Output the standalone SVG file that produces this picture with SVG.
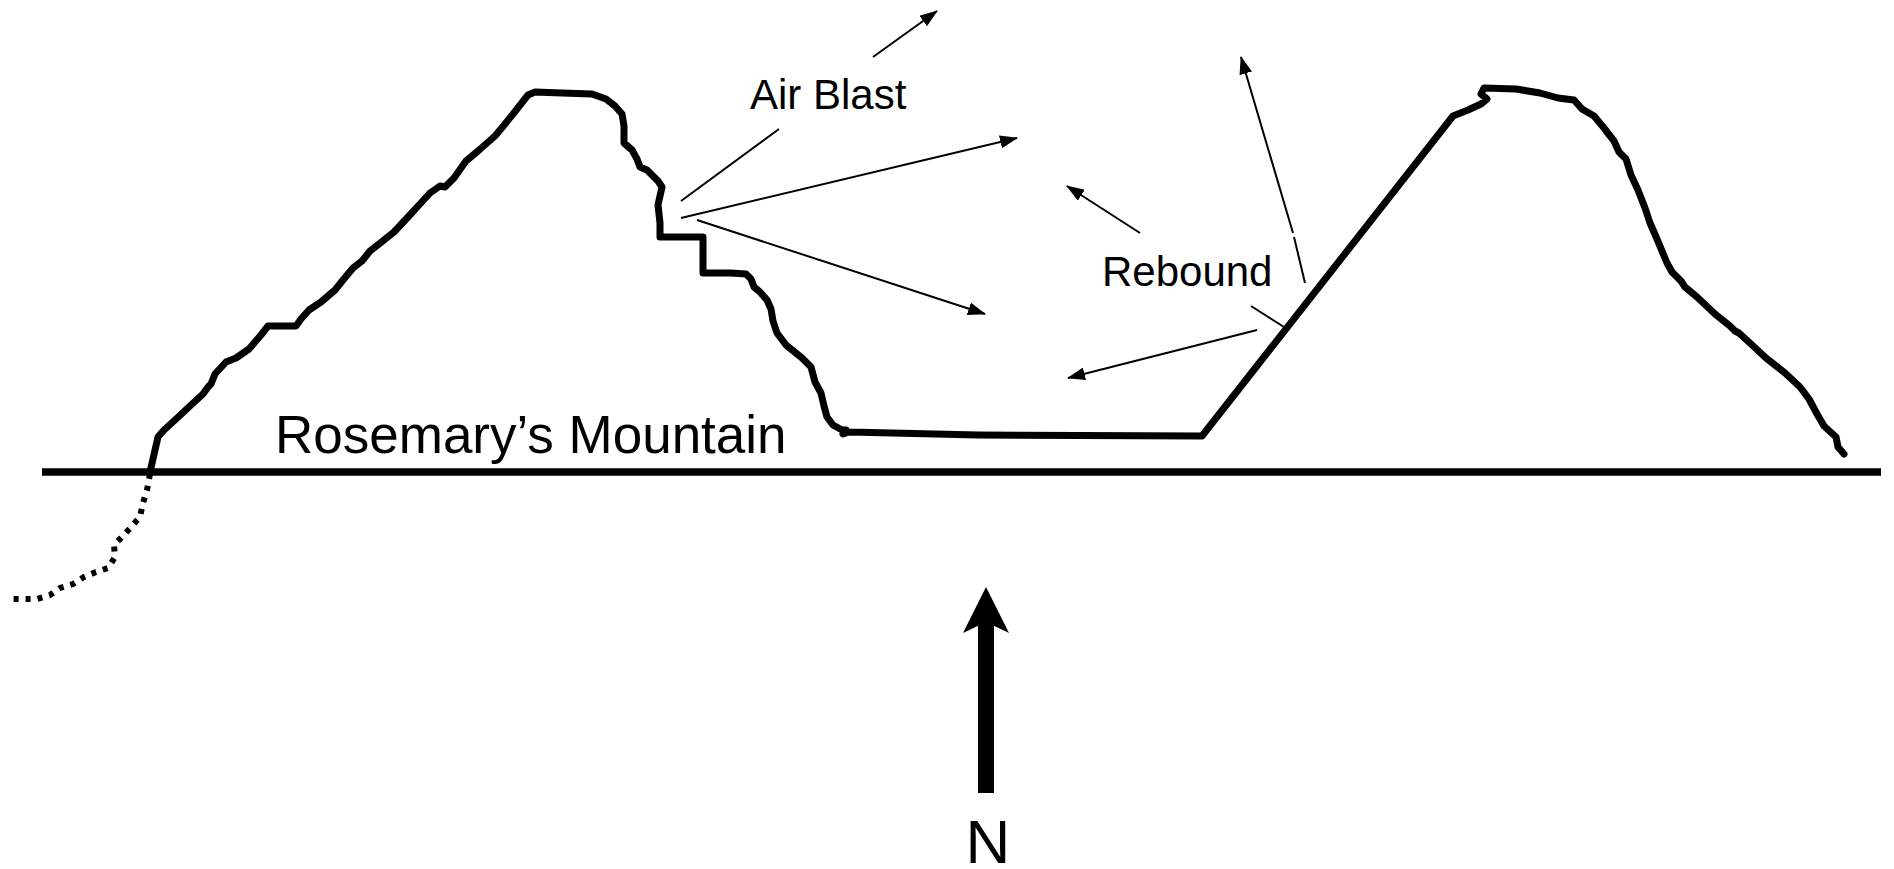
<svg xmlns="http://www.w3.org/2000/svg" width="1894" height="869" viewBox="0 0 1894 869">
  <style>
    .terrain { fill: none; stroke: #000; stroke-width: 7; stroke-linejoin: round; stroke-linecap: round; }
    .ground { fill: none; stroke: #000; stroke-width: 7.5; }
    .buried { fill: none; stroke: #000; stroke-width: 6; stroke-dasharray: 5 7; }
    .ray { fill: none; stroke: #000; stroke-width: 2; }
    .ray-arrow { fill: none; stroke: #000; stroke-width: 2; marker-end: url(#head); }
    .label { font-family: "Liberation Sans", Arial, sans-serif; fill: #000; }
  </style>
  <defs>
    <marker id="head" markerUnits="userSpaceOnUse" markerWidth="18" markerHeight="13" refX="17" refY="6.5" orient="auto">
      <path d="M0,0 L18,6.5 L0,13 z" fill="#000"/>
    </marker>
  </defs>
  <rect width="1894" height="869" fill="#fff"/>

  <!-- ground surface and the buried continuation of the slope -->
  <g id="ground">
    <line class="ground" x1="42" y1="472" x2="1881" y2="472"/>
    <path class="buried" d="M150,474 L147,490 L143,503 L140,517 L132,526 L123,536 L114,545 L115,557 L108,568 L96,572 L84,577 L73,584 L60,588 L50,595 L37,599 L10,599"/>
  </g>

  <!-- mountain profile: left peak, valley floor, right peak -->
  <g id="terrain">
    <path class="terrain" d="M150,472 L158,437 L164,430 L175,420 L190,406 L203,394 L208,387 L211,384 L215,374 L226,362 L236,358 L249,349 L261,335 L268,326 L296,326 L301,319 L309,310 L321,302 L335,290 L343,280 L353,268 L362,261 L370,251 L379,244 L394,232 L408,217 L419,205 L430,193 L440,186 L445,187 L454,178 L466,161 L478,151 L495,136 L505,124 L517,109 L528,95 L535,92 L562,93 L592,94 L606,99 L615,106 L622,114 L624,126 L624,143 L632,150 L637,159 L640,167 L647,170 L658,181 L662,187 L660,196 L658,205 L660,223 L660,237 L703,237 L703,273 L731,273 L746,274 L751,279 L754,287 L760,292 L767,300 L771,309 L773,321 L777,333 L786,345 L802,358 L811,367 L815,382 L821,393 L824,406 L827,417 L833,425 L842,430 L846,430 L843,434 L849,432 L978,435 L1202,436 L1453,116 L1468,110 L1481,104 L1487,99 L1481,94 L1484,88 L1516,89 L1540,93 L1558,98 L1574,100 L1582,109 L1594,116 L1604,128 L1614,141 L1619,152 L1626,159 L1631,175 L1638,190 L1645,208 L1650,223 L1657,239 L1667,263 L1672,272 L1681,281 L1685,287 L1697,297 L1715,314 L1730,326 L1735,331 L1739,333 L1751,344 L1766,358 L1785,373 L1800,387 L1809,399 L1817,414 L1824,426 L1836,437 L1838,447 L1844,454"/>
  </g>

  <!-- blast and rebound rays -->
  <g id="connectors">
    <line class="ray-arrow" x1="873" y1="57" x2="937" y2="11"/>
    <line class="ray" x1="779" y1="129" x2="681" y2="201"/>
    <line class="ray-arrow" x1="681" y1="218" x2="1017" y2="138"/>
    <line class="ray-arrow" x1="697" y1="220" x2="985" y2="314"/>
    <line class="ray-arrow" x1="1140" y1="233" x2="1067" y2="186"/>
    <line class="ray" x1="1305" y1="283" x2="1294" y2="237"/>
    <line class="ray-arrow" x1="1293" y1="233" x2="1241" y2="57"/>
    <line class="ray" x1="1251" y1="306" x2="1284" y2="327"/>
    <line class="ray-arrow" x1="1257" y1="330" x2="1068" y2="378"/>
  </g>

  <g id="label-air-blast">
    <text class="label" x="750" y="109" font-size="42">Air Blast</text>
  </g>
  <g id="label-rebound">
    <text class="label" x="1102" y="286" font-size="42">Rebound</text>
  </g>
  <g id="label-mountain">
    <text class="label" x="275" y="453" font-size="53">Rosemary’s Mountain</text>
  </g>

  <!-- north arrow -->
  <g id="north">
    <rect x="978" y="622" width="16" height="171" fill="#000"/>
    <path d="M986,587 L1009,633 L986,622 L963,633 z" fill="#000"/>
    <text class="label" x="988" y="863" font-size="62" text-anchor="middle">N</text>
  </g>
</svg>
